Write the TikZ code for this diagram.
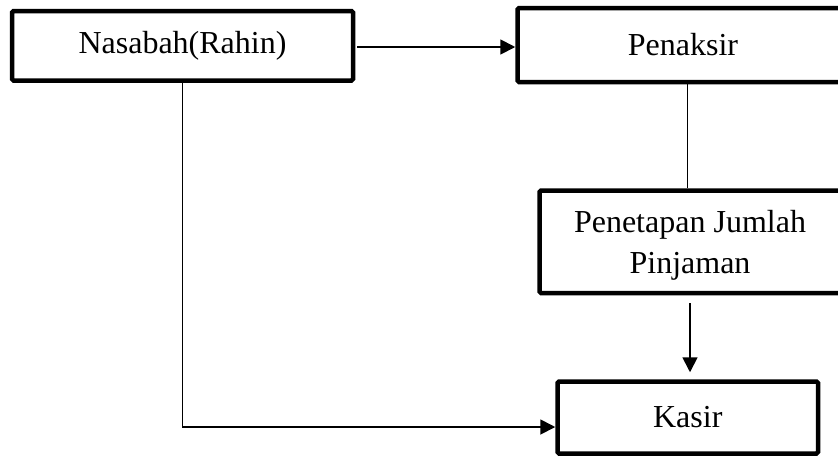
\documentclass[tikz,border=0pt]{standalone}
\usepackage{fontspec}
\setmainfont{Liberation Serif}
\usetikzlibrary{arrows.meta,calc}

\tikzset{
  flowbox/.style={draw=black, line width=4.5pt, rounded corners=1.5pt, fill=white,
    inner sep=0pt, align=center, font=\fontsize{32}{41}\selectfont},
  link/.style={draw=black, line width=1.8pt},
  arrowlink/.style={link, -{Triangle[length=15pt,width=15pt]}}
}

\begin{document}
\begin{tikzpicture}[x=1pt, y=-1pt]
  \useasboundingbox (0,0) rectangle (838,456);
  \clip (0,0) rectangle (838,456);

  % process boxes
  \node[flowbox, minimum width=341pt, minimum height=69.5pt] (nas) at (182.5,45.75) {Nasabah(Rahin)};
  \node[flowbox, minimum width=331pt, minimum height=74pt] (pen) at (683,45) {Penaksir};
  \node[flowbox, minimum width=301pt, minimum height=102.5pt] (pjp) at (690,241.75) {\rule{0pt}{30pt}Penetapan Jumlah\\Pinjaman};
  \node[flowbox, minimum width=260.5pt, minimum height=72pt] (kas) at (687.75,417.5) {Kasir};

  % connectors
  \draw[arrowlink, shorten <=2pt] (nas.east |- 0,47) -- (pen.west |- 0,47);
  \draw[link] ([xshift=4.5pt]pen.south) -- ([xshift=4.5pt]pen.south |- pjp.north);
  \draw[arrowlink, shorten <=8pt, shorten >=7pt] (pjp.south) -- (pjp.south |- kas.north);
  \draw[arrowlink] (nas.south) |- ([yshift=-9.5pt]kas.west);
\end{tikzpicture}
\end{document}
